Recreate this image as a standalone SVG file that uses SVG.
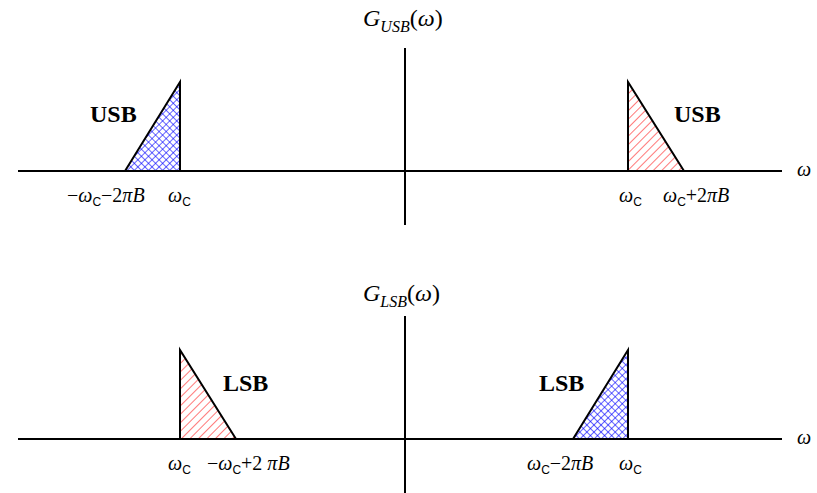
<svg xmlns="http://www.w3.org/2000/svg" width="817" height="493" viewBox="0 0 817 493">
<style>
.ax{stroke:#000;stroke-width:2;fill:none}
.tri{stroke:#000;stroke-width:2;stroke-linejoin:miter}
.t{font-family:"Liberation Serif","Times New Roman",serif;font-size:20px;fill:#000}
.ttl{font-family:"Liberation Serif","Times New Roman",serif;font-size:24px;fill:#000}
.it{font-style:italic}
.sb{font-family:"Liberation Sans",Arial,sans-serif;font-size:12px;fill:#000}
.lbl{font-family:"Liberation Serif","Times New Roman",serif;font-size:24px;font-weight:bold;fill:#000}
</style>
<defs>
<pattern id="red" patternUnits="userSpaceOnUse" width="6" height="6" patternTransform="rotate(45)">
<rect width="6" height="6" fill="#fff"/>
<line x1="0" y1="0" x2="0" y2="6" stroke="#ff3030" stroke-width="1.3"/>
</pattern>
<pattern id="blue" patternUnits="userSpaceOnUse" width="5" height="5" patternTransform="rotate(45)">
<rect width="5" height="5" fill="#fff"/>
<line x1="0" y1="0" x2="0" y2="5" stroke="#0000ff" stroke-width="1.2"/>
<line x1="0" y1="0" x2="5" y2="0" stroke="#0000ff" stroke-width="1.2"/>
</pattern>
</defs>
<g id="connectors">
<line class="ax" x1="18" y1="171" x2="782" y2="171"/>
<line class="ax" x1="405" y1="48" x2="405" y2="225"/>
<line class="ax" x1="18" y1="439" x2="782" y2="439"/>
<line class="ax" x1="405" y1="316" x2="405" y2="493"/>
</g>
<g id="usb-left">
<polygon class="tri" points="125,171 180,82 180,171" fill="url(#blue)"/>
<text class="lbl" x="90" y="122">USB</text>
</g>
<g id="usb-right">
<polygon class="tri" points="628,82 628,171 684,171" fill="url(#red)"/>
<text class="lbl" x="674" y="122">USB</text>
</g>
<g id="lsb-left">
<polygon class="tri" points="180,350 180,439 236,439" fill="url(#red)"/>
<text class="lbl" x="223" y="391">LSB</text>
</g>
<g id="lsb-right">
<polygon class="tri" points="573,439 628,350 628,439" fill="url(#blue)"/>
<text class="lbl" x="539" y="391">LSB</text>
</g>
<g id="title-usb">
<text class="ttl" x="363" y="26"><tspan class="it">G</tspan><tspan class="it" font-size="16" dy="6">USB</tspan><tspan dy="-6">(</tspan><tspan class="it">ω</tspan>)</text>
</g>
<g id="title-lsb">
<text class="ttl" x="363" y="301"><tspan class="it">G</tspan><tspan class="it" font-size="16" dy="6">LSB</tspan><tspan dy="-6">(</tspan><tspan class="it">ω</tspan>)</text>
</g>
<g id="omega-top"><text class="t it" x="797" y="176">ω</text></g>
<g id="omega-bottom"><text class="t it" x="797" y="444">ω</text></g>
<g id="ticks-top">
<text class="t" x="67" y="202">−<tspan class="it">ω</tspan><tspan class="sb" dy="4">C</tspan><tspan dy="-4">−2</tspan><tspan class="it">πB</tspan></text>
<text class="t" x="168" y="202"><tspan class="it">ω</tspan><tspan class="sb" dy="4">C</tspan></text>
<text class="t" x="619" y="202"><tspan class="it">ω</tspan><tspan class="sb" dy="4">C</tspan></text>
<text class="t" x="663" y="202"><tspan class="it">ω</tspan><tspan class="sb" dy="4">C</tspan><tspan dy="-4">+2</tspan><tspan class="it">πB</tspan></text>
</g>
<g id="ticks-bottom">
<text class="t" x="168" y="470"><tspan class="it">ω</tspan><tspan class="sb" dy="4">C</tspan></text>
<text class="t" x="207" y="470">−<tspan class="it">ω</tspan><tspan class="sb" dy="4">C</tspan><tspan dy="-4">+2 </tspan><tspan class="it">πB</tspan></text>
<text class="t" x="527" y="470"><tspan class="it">ω</tspan><tspan class="sb" dy="4">C</tspan><tspan dy="-4">−2</tspan><tspan class="it">πB</tspan></text>
<text class="t" x="619" y="470"><tspan class="it">ω</tspan><tspan class="sb" dy="4">C</tspan></text>
</g>
</svg>
